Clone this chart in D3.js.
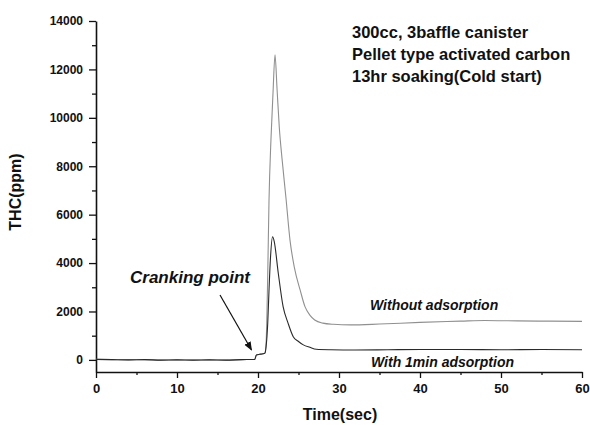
<!DOCTYPE html>
<html>
<head>
<meta charset="utf-8">
<script src="https://cdn.jsdelivr.net/npm/d3@7/dist/d3.min.js"></script>
<style>
  html, body { margin: 0; padding: 0; background: #fff; }
  svg { display: block; }
  text { font-family: "Liberation Sans", Arial, sans-serif; fill: #111; }
</style>
</head>
<body>
<svg id="chart" width="590" height="425"></svg>
<script>
// ---- data ----
const timeWithout = [0,2,4,6,8,10,12,14,16,18,19.6,19.8,20.2,20.6,20.85,21.0,21.2,21.36,21.6,21.85,22.1,22.35,22.63,23.0,23.45,23.95,24.5,25.2,25.8,26.4,27.0,28.0,29.3,31.4,35,40,45,48,52,56,60];
const thcWithout  = [20,10,0,10,-10,0,-10,0,-10,10,20,200,230,250,280,700,3500,6600,9100,11000,12600,11200,9600,8200,6700,4950,3800,2890,2200,1850,1650,1520,1470,1445,1480,1550,1600,1630,1610,1600,1590];

const timeWith = [0,2,4,6,8,10,12,14,16,18,19.6,19.8,20.2,20.6,20.85,21.0,21.2,21.36,21.55,21.8,22.0,22.5,23.1,23.7,24.35,25.0,25.6,26.4,27.2,29,32,36,40,45,50,55,60];
const thcWith  = [20,10,0,10,-10,0,-10,0,-10,10,20,200,230,250,280,550,1500,2890,4270,5090,4900,3590,2200,1530,960,760,620,520,440,420,410,420,430,430,420,430,420];

const xTicks = [0,10,20,30,40,50,60];
const xMinorTicks = [5,15,25,35,45,55];
const yTicks = [0,2000,4000,6000,8000,10000,12000,14000];
const yMinorTicks = [1000,3000,5000,7000,9000,11000,13000];

const xTitle = "Time(sec)";
const yTitle = "THC(ppm)";
const infoLines = ["300cc, 3baffle canister", "Pellet type activated carbon", "13hr soaking(Cold start)"];
const crankLabel = "Cranking point";
const labelWithout = "Without adsorption";
const labelWith = "With 1min adsorption";

// ---- chart ----
const svg = d3.select("#chart");
const x = d3.scaleLinear().domain([0, 60]).range([96, 582]);
const y = d3.scaleLinear().domain([-500, 14000]).range([372, 21]);

// axes
const gx = svg.append("g").attr("transform", "translate(0,372)")
  .call(d3.axisBottom(x).tickValues(xTicks).tickSize(6).tickSizeOuter(0).tickPadding(6).tickFormat(d3.format("d")));
svg.append("g").attr("transform", "translate(0,372)")
  .call(d3.axisBottom(x).tickValues(xMinorTicks).tickSize(3).tickSizeOuter(0).tickFormat(""))
  .select(".domain").remove();
const gy = svg.append("g").attr("transform", "translate(96,0)")
  .call(d3.axisLeft(y).tickValues(yTicks).tickSize(7).tickSizeOuter(0).tickPadding(6).tickFormat(d3.format("d")));
svg.append("g").attr("transform", "translate(96,0)")
  .call(d3.axisLeft(y).tickValues(yMinorTicks).tickSize(4).tickSizeOuter(0).tickFormat(""))
  .select(".domain").remove();

svg.selectAll(".domain").attr("stroke", "#111").attr("stroke-width", 1.6);
svg.selectAll(".tick line").attr("stroke", "#111").attr("stroke-width", 1.3);
gx.selectAll("text").attr("font-size", 13).attr("font-weight", "bold").attr("fill", "#111")
  .style("font-family", "'Liberation Sans', Arial, sans-serif");
gy.selectAll("text").attr("font-size", 12).attr("font-weight", "bold").attr("fill", "#111")
  .style("font-family", "'Liberation Sans', Arial, sans-serif");

// lines
const line = d3.line().x(d => x(d[0])).y(d => y(d[1])).curve(d3.curveMonotoneX);
svg.append("path")
  .datum(d3.zip(timeWithout, thcWithout))
  .attr("d", line).attr("fill", "none")
  .attr("stroke", "#909090").attr("stroke-width", 1.1);
svg.append("path")
  .datum(d3.zip(timeWith, thcWith))
  .attr("d", line).attr("fill", "none")
  .attr("stroke", "#2a2a2a").attr("stroke-width", 1.1);

// titles
svg.append("text").attr("x", 340).attr("y", 420).attr("text-anchor", "middle")
  .attr("font-size", 16).attr("font-weight", "bold").text(xTitle);
svg.append("text").attr("transform", "translate(21,192) rotate(-90)").attr("text-anchor", "middle")
  .attr("font-size", 16).attr("font-weight", "bold").text(yTitle);

// info block
svg.append("g").selectAll("text").data(infoLines).join("text")
  .attr("x", 352).attr("y", (d, i) => 38 + i * 22)
  .attr("font-size", 16.5).attr("font-weight", "bold").text(d => d);

// annotations
svg.append("text").attr("x", 130).attr("y", 283)
  .attr("font-size", 17).attr("font-weight", "bold").attr("font-style", "italic").text(crankLabel);
svg.append("text").attr("x", 370).attr("y", 310)
  .attr("font-size", 14).attr("font-weight", "bold").attr("font-style", "italic").text(labelWithout);
svg.append("text").attr("x", 371).attr("y", 366.5)
  .attr("font-size", 14).attr("font-weight", "bold").attr("font-style", "italic").text(labelWith);

// arrow
svg.append("defs").append("marker").attr("id", "arr")
  .attr("viewBox", "0 0 10 10").attr("refX", 9).attr("refY", 5)
  .attr("markerWidth", 9).attr("markerHeight", 9).attr("markerUnits", "userSpaceOnUse")
  .attr("orient", "auto")
  .append("path").attr("d", "M0,1 L10,5 L0,9 Z").attr("fill", "#111");
svg.append("line").attr("x1", 220).attr("y1", 295).attr("x2", 251.5).attr("y2", 350)
  .attr("stroke", "#111").attr("stroke-width", 1.2).attr("marker-end", "url(#arr)");
</script>
</body>
</html>
